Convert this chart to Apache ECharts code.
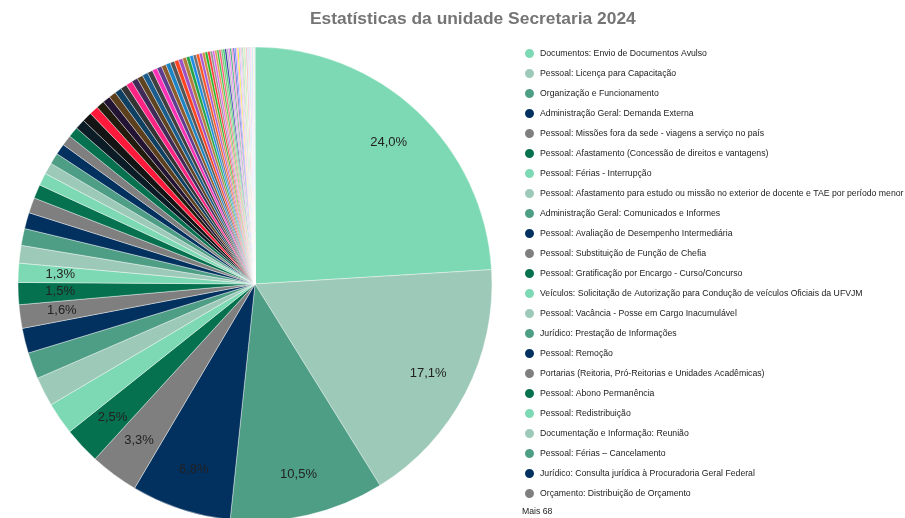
<!DOCTYPE html>
<html>
<head>
<meta charset="utf-8">
<script src="https://cdn.jsdelivr.net/npm/echarts@6/dist/echarts.min.js"></script>
<style>
  html, body { margin: 0; padding: 0; background: #fff; }
  #chart { width: 905px; height: 518px; }
</style>
</head>
<body>
<div id="chart"></div>
<script>
// categorias visiveis na legenda
const mainNames = [
  "Documentos: Envio de Documentos Avulso",
  "Pessoal: Licença para Capacitação",
  "Organização e Funcionamento",
  "Administração Geral: Demanda Externa",
  "Pessoal: Missões fora da sede - viagens a serviço no país",
  "Pessoal: Afastamento (Concessão de direitos e vantagens)",
  "Pessoal: Férias - Interrupção",
  "Pessoal: Afastamento para estudo ou missão no exterior de docente e TAE por período menor",
  "Administração Geral: Comunicados e Informes",
  "Pessoal: Avaliação de Desempenho Intermediária",
  "Pessoal: Substituição de Função de Chefia",
  "Pessoal: Gratificação por Encargo - Curso/Concurso",
  "Veículos: Solicitação de Autorização para Condução de veículos Oficiais da UFVJM",
  "Pessoal: Vacância - Posse em Cargo Inacumulável",
  "Jurídico: Prestação de Informações",
  "Pessoal: Remoção",
  "Portarias (Reitoria, Pró-Reitorias e Unidades Acadêmicas)",
  "Pessoal: Abono Permanência",
  "Pessoal: Redistribuição",
  "Documentação e Informação: Reunião",
  "Pessoal: Férias – Cancelamento",
  "Jurídico: Consulta jurídica à Procuradoria Geral Federal",
  "Orçamento: Distribuição de Orçamento"
];
const mainValues = [24.0, 17.1, 10.5, 6.8, 3.3, 2.5, 2.2, 2.0, 1.8, 1.7, 1.6, 1.5, 1.3,
  1.2, 1.15, 1.1, 1.05, 0.95, 0.85, 0.78, 0.76, 0.74, 0.72];

// "Mais 68" - fatias restantes
const otherValues = [0.71, 0.69, 0.66, 0.62, 0.55, 0.52, 0.49, 0.46, 0.44, 0.44, 0.42,
  0.40, 0.38, 0.36, 0.34, 0.33, 0.32, 0.31, 0.30, 0.29, 0.28, 0.27,
  0.24, 0.23, 0.22, 0.21, 0.20, 0.19, 0.18, 0.17, 0.16, 0.15,
  0.15, 0.14, 0.14, 0.13, 0.13, 0.12, 0.12, 0.11, 0.11, 0.10,
  0.10, 0.10, 0.09, 0.09, 0.08, 0.08, 0.08, 0.07, 0.07, 0.07,
  0.06, 0.06, 0.06, 0.05, 0.05, 0.05, 0.04, 0.04, 0.04, 0.04,
  0.03, 0.03, 0.03, 0.03, 0.02, 0.02];
const otherCount = 68;

// fatias com rotulo
const labeledIdx = [0, 1, 2, 3, 4, 5, 10, 11, 12];

const baseColors = ["#7dd9b3", "#9dc9b9", "#4e9e86", "#02315f", "#7f7f7f", "#06714f"];
const extraColors = [
  "#0b1c26", "#141414", "#ff1a3c", "#221c0e", "#221432", "#5c3f1d", "#0f4061", "#343434",
  "#ff2384", "#402b58", "#604422", "#1a5c8c", "#404040", "#ff33b5", "#5c3c8c", "#8c5c2c",
  "#1c84c4", "#555555", "#ff4422", "#9c52c4", "#b47c3c", "#22a444", "#1c8ce4", "#707070",
  "#ff5522", "#a458d4", "#d48444", "#22b424", "#ff3434", "#909090", "#d464e4", "#e49454",
  "#34c444", "#ff5474", "#74c474", "#34c464", "#2424a4", "#b4b4b4", "#e474f4", "#34a464",
  "#ff84c4", "#4444b4", "#5484ff", "#ff94d4", "#f4e404", "#a0a0ff", "#ffb0e0", "#c0c0c0",
  "#60d0a0", "#ffd0a0", "#80e080", "#e0e0e0", "#ff6060", "#a0e0ff", "#d0a0ff", "#ffe080",
  "#60c0ff", "#ff80ff", "#c0ffc0", "#ffc0c0", "#8080ff", "#40e0e0", "#e0c0ff", "#f0f060",
  "#ff9090", "#90f0c0", "#c0d0ff"
];

const palette = [];
for (let i = 0; i < 24; i++) palette.push(baseColors[i % 6]);
extraColors.forEach(c => palette.push(c));

const allNames = mainNames.slice();
otherValues.forEach((v, i) => allNames.push("Outros " + (i + 1)));
const allValues = mainValues.concat(otherValues);

const pieData = allValues.map((v, i) => ({
  name: allNames[i],
  value: v,
  itemStyle: { color: palette[i] }
}));
const labelData = allValues.map((v, i) => ({
  name: allNames[i],
  value: v,
  label: { show: labeledIdx.indexOf(i) >= 0 }
}));

const chart = echarts.init(document.getElementById("chart"));
chart.setOption({
  animation: false,
  backgroundColor: "#fff",
  title: {
    text: "Estatísticas da unidade Secretaria 2024",
    left: 305,
    top: 6,
    textStyle: {
      fontFamily: "Liberation Sans, Arial",
      fontWeight: "bold",
      fontSize: 17.4,
      color: "#757575"
    }
  },
  legend: {
    orient: "vertical",
    left: 523,
    top: 47,
    padding: 0,
    icon: "circle",
    itemWidth: 11,
    itemHeight: 11,
    itemGap: 7,
    data: mainNames,
    textStyle: {
      fontFamily: "Liberation Sans, Arial",
      fontSize: 8.7,
      lineHeight: 11,
      color: "#222"
    }
  },
  graphic: [{
    type: "text",
    left: 522,
    top: 507,
    style: {
      text: "Mais " + otherCount,
      fontFamily: "Liberation Sans, Arial",
      fontSize: 8.7,
      fill: "#222"
    }
  }],
  series: [
    {
      type: "pie",
      center: [255, 284],
      radius: [0, 237],
      clockwise: true,
      startAngle: 90,
      data: pieData,
      label: { show: false },
      labelLine: { show: false },
      itemStyle: { borderColor: "#fff", borderWidth: 0.4 },
      emphasis: { disabled: true }
    },
    {
      // camada apenas para os rotulos de percentual
      type: "pie",
      center: [255, 284],
      radius: [147, 237],
      startAngle: 90,
      silent: true,
      legendHoverLink: false,
      data: labelData,
      itemStyle: { color: "transparent" },
      label: {
        position: "inside",
        fontFamily: "Liberation Sans, Arial",
        fontSize: 13,
        color: "#222",
        formatter: p => p.percent.toFixed(1).replace(".", ",") + "%"
      },
      labelLine: { show: false },
      emphasis: { disabled: true }
    }
  ]
});
</script>
</body>
</html>
